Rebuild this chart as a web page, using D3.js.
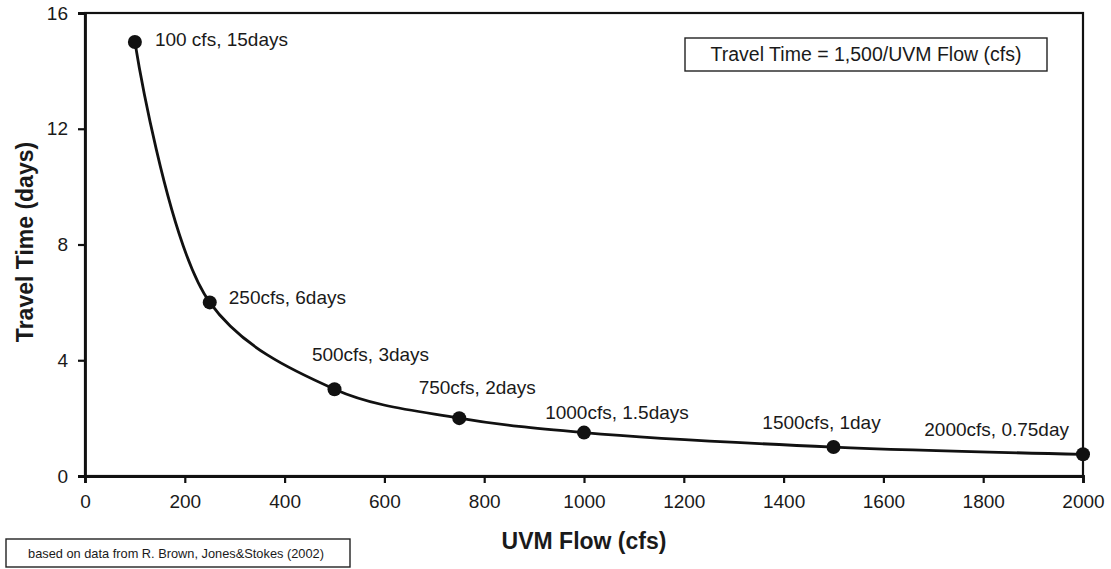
<!DOCTYPE html>
<html>
<head>
<meta charset="utf-8">
<script src="https://cdn.jsdelivr.net/npm/d3@7"></script>
<style>
  body { margin: 0; background: #fff; }
  text { font-family: "Liberation Sans", Arial, sans-serif; fill: #1a1a1a; }
</style>
</head>
<body>
<svg width="1111" height="569"></svg>
<script>
const flows = [100, 250, 500, 750, 1000, 1500, 2000];
const days = [15, 6, 3, 2, 1.5, 1, 0.75];
const labels = ["100 cfs, 15days", "250cfs, 6days", "500cfs, 3days", "750cfs, 2days",
                "1000cfs, 1.5days", "1500cfs, 1day", "2000cfs, 0.75day"];
const xTicks = [0, 200, 400, 600, 800, 1000, 1200, 1400, 1600, 1800, 2000];
const yTicks = [0, 4, 8, 12, 16];

// label placement relative to the point (dx, dy, anchor)
const labelPos = [[20, 4, "start"], [19, 2, "start"], [36, -28, "middle"], [18, -24, "middle"],
                  [33, -14, "middle"], [-12, -18, "middle"], [-14, -18, "end"]];

const plotL = 85, plotR = 1083, plotT = 13, plotB = 476;

const svg = d3.select("svg");

const x = d3.scaleLinear().domain([0, 2000]).range([plotL, plotR]);
const y = d3.scaleLinear().domain([0, 16]).range([plotB, plotT]);

// frame
svg.append("rect")
  .attr("x", plotL).attr("y", plotT)
  .attr("width", plotR - plotL).attr("height", plotB - plotT)
  .attr("fill", "none").attr("stroke", "#111").attr("stroke-width", 2.2);

const xAxis = svg.append("g")
  .attr("transform", `translate(0,${plotB})`)
  .call(d3.axisBottom(x).tickValues(xTicks).tickFormat(d3.format("d"))
    .tickSize(7).tickPadding(12));

const yAxis = svg.append("g")
  .attr("transform", `translate(${plotL},0)`)
  .call(d3.axisLeft(y).tickValues(yTicks).tickFormat(d3.format("d"))
    .tickSize(7).tickPadding(10));

[xAxis, yAxis].forEach(a => {
  a.select(".domain").attr("stroke", "#111").attr("stroke-width", 2.8);
  a.selectAll(".tick line").attr("stroke", "#111").attr("stroke-width", 2.2);
  a.selectAll(".tick text").attr("font-size", 19).attr("fill", "#1a1a1a")
    .attr("font-family", "Liberation Sans, Arial, sans-serif");
});

const pts = flows.map((f, i) => [f, days[i]]);

const line = d3.line()
  .x(d => x(d[0]))
  .y(d => y(d[1]))
  .curve(d3.curveCatmullRom.alpha(0.5));

svg.append("path")
  .datum(pts)
  .attr("d", line)
  .attr("fill", "none")
  .attr("stroke", "#111")
  .attr("stroke-width", 2.8);

svg.selectAll("circle.pt")
  .data(pts)
  .join("circle")
  .attr("class", "pt")
  .attr("cx", d => x(d[0]))
  .attr("cy", d => y(d[1]))
  .attr("r", 7)
  .attr("fill", "#111");

svg.selectAll("text.lbl")
  .data(pts)
  .join("text")
  .attr("class", "lbl")
  .attr("x", (d, i) => x(d[0]) + labelPos[i][0])
  .attr("y", (d, i) => y(d[1]) + labelPos[i][1])
  .attr("text-anchor", (d, i) => labelPos[i][2])
  .attr("font-size", 19)
  .text((d, i) => labels[i]);

// equation box
svg.append("rect")
  .attr("x", 685).attr("y", 38).attr("width", 362).attr("height", 33)
  .attr("fill", "#fff").attr("stroke", "#222").attr("stroke-width", 1.4);
svg.append("text")
  .attr("x", 866).attr("y", 61).attr("text-anchor", "middle")
  .attr("font-size", 19.5)
  .text("Travel Time = 1,500/UVM Flow (cfs)");

// source box
svg.append("rect")
  .attr("x", 6).attr("y", 539).attr("width", 344).attr("height", 28)
  .attr("fill", "#fff").attr("stroke", "#222").attr("stroke-width", 1.4);
svg.append("text")
  .attr("x", 176).attr("y", 558).attr("text-anchor", "middle")
  .attr("font-size", 12.8)
  .text("based on data from R. Brown, Jones&Stokes (2002)");

// axis titles
svg.append("text")
  .attr("x", 584).attr("y", 549)
  .attr("text-anchor", "middle")
  .attr("font-size", 23).attr("font-weight", "bold")
  .text("UVM Flow (cfs)");

svg.append("text")
  .attr("transform", `translate(33,242) rotate(-90)`)
  .attr("text-anchor", "middle")
  .attr("font-size", 23).attr("font-weight", "bold")
  .text("Travel Time (days)");
</script>
</body>
</html>
